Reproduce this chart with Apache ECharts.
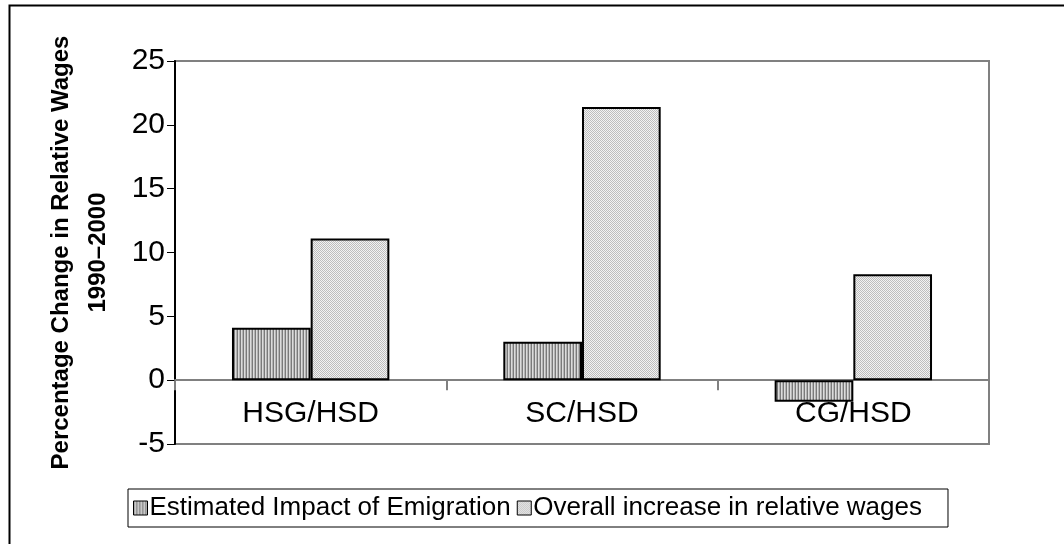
<!DOCTYPE html>
<html>
<head>
<meta charset="utf-8">
<script src="https://cdn.jsdelivr.net/npm/echarts@6/dist/echarts.min.js"></script>
<style>html,body{margin:0;padding:0;background:#fff}#c{width:1064px;height:544px}</style>
</head>
<body>
<div id="c"></div>
<script>
const categories = ['HSG/HSD', 'SC/HSD', 'CG/HSD'];
const seriesNames = ['Estimated Impact of Emigration', 'Overall increase in relative wages'];
const emigration = [4.1, 3.0, -1.7];
const overall = [11.1, 21.4, 8.3];
const yTicks = [-5, 0, 5, 10, 15, 20, 25];

function stripePattern() {
  const c = document.createElement('canvas');
  c.width = 3; c.height = 3;
  const g = c.getContext('2d');
  g.fillStyle = '#dcdcdc'; g.fillRect(0, 0, 3, 3);
  g.fillStyle = '#7a7a7a'; g.fillRect(0, 0, 1, 3);
  g.fillStyle = '#b4b4b4'; g.fillRect(2, 0, 1, 3);
  return c;
}
function checkerPattern() {
  const c = document.createElement('canvas');
  c.width = 2; c.height = 2;
  const g = c.getContext('2d');
  g.fillStyle = '#f2f2f2'; g.fillRect(0, 0, 2, 2);
  g.fillStyle = '#bdbdbd'; g.fillRect(0, 0, 1, 1); g.fillRect(1, 1, 1, 1);
  return c;
}

const chart = echarts.init(document.getElementById('c'));
const font = 'Liberation Sans, Arial, sans-serif';
chart.setOption({
  animation: false,
  textStyle: { fontFamily: font },
  graphic: [{
    type: 'rect', left: 7, top: 3, z: -1,
    shape: { width: 1100, height: 600 },
    style: { fill: 'none', stroke: '#000', lineWidth: 2 }
  }],
  grid: { left: 175, right: 75, top: 61, bottom: 100, show: true, borderColor: '#808080', borderWidth: 2, backgroundColor: '#fff' },
  legend: {
    left: 128, top: 489,
    itemWidth: 14, itemHeight: 14, itemGap: 6,
    padding: [6, 26, 6, 5],
    borderColor: '#000', borderWidth: 1,
    textStyle: { fontSize: 26, color: '#000', fontFamily: font, padding: [0, 0, 0, -3] },
    data: seriesNames.map(n => ({ name: n, icon: 'rect' })),
    itemStyle: { borderColor: '#000', borderWidth: 1 }
  },
  xAxis: {
    type: 'category', data: categories,
    axisLine: { onZero: true, lineStyle: { color: '#808080', width: 2 } },
    axisTick: { show: true, length: 10, lineStyle: { color: '#808080', width: 2 } },
    axisLabel: { fontSize: 30, color: '#000', margin: -45, fontFamily: font }
  },
  yAxis: {
    type: 'value', min: -5, max: 25, interval: 5,
    name: 'Percentage Change in Relative Wages\n1990\u20132000',
    nameLocation: 'middle', nameRotate: 90, nameGap: 58,
    nameTextStyle: { fontSize: 24, fontWeight: 'bold', color: '#000', lineHeight: 37, fontFamily: font },
    splitLine: { show: false },
    axisLine: { show: true, lineStyle: { color: '#000', width: 2 } },
    axisTick: { show: true, length: 8, lineStyle: { color: '#000', width: 1 } },
    axisLabel: { fontSize: 30, color: '#000', margin: 10, fontFamily: font,
      formatter: v => yTicks.includes(v) ? String(v) : '' }
  },
  series: [
    { name: seriesNames[0], type: 'bar', data: emigration, barGap: '0%', barCategoryGap: '42%',
      itemStyle: { color: { image: stripePattern(), repeat: 'repeat' }, borderColor: '#000', borderWidth: 2 } },
    { name: seriesNames[1], type: 'bar', data: overall, barGap: '0%', barCategoryGap: '42%',
      itemStyle: { color: { image: checkerPattern(), repeat: 'repeat' }, borderColor: '#000', borderWidth: 2 } }
  ]
});
</script>
</body>
</html>
